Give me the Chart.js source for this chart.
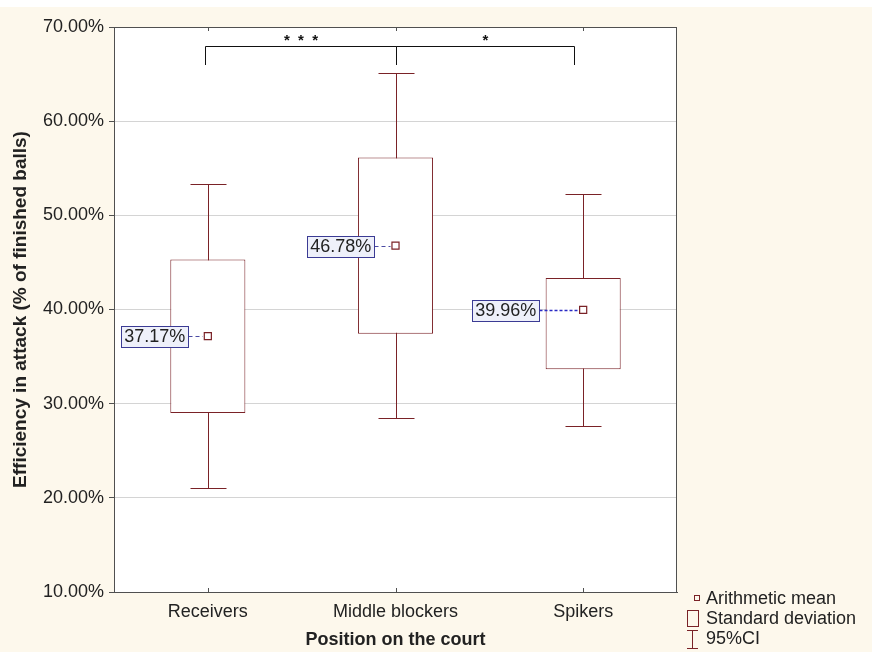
<!DOCTYPE html>
<html><head><meta charset="utf-8">
<script src="https://cdn.jsdelivr.net/npm/chart.js@4/dist/chart.umd.min.js"></script>
<style>html,body{margin:0;padding:0;background:#fff;overflow:hidden}#wrap{width:872px;height:652px;position:relative}canvas{display:block}</style>
</head><body><div id="wrap"><canvas id="c" width="872" height="652" style="width:872px;height:652px"></canvas></div>
<script>
// ---- data ----
const categories = ['Receivers', 'Middle blockers', 'Spikers'];
const means = [37.17, 46.78, 39.96];
const sdLow = [29.02, 37.43, 33.65];
const sdHigh = [45.32, 56.13, 43.35];
const ciLow = [21.06, 28.48, 27.62];
const ciHigh = [53.28, 65.08, 52.30];
const meanLabels = ['37.17%', '46.78%', '39.96%'];
const yTicks = [10, 20, 30, 40, 50, 60, 70];
const compFrom = [0, 1];
const compTo = [1, 2];
const compStars = ['*  *  *', '*'];
const legendItems = ['Arithmetic mean', 'Standard deviation', '95%CI'];

// ---- styles / layout ----
const FONT = '"Liberation Sans", Arial, sans-serif';
const MAROON = '#7a2227';
const AXIS = '#505050';
const labelGap = [20, 22, 44];
const bracketTop = 68, bracketBottom = 66;
const bracketAnchor = [-0.015, 0, -0.05];

const bgPlugin = {
  id: 'bg',
  beforeDraw(chart) {
    const {ctx, chartArea: a, width, height} = chart;
    ctx.save();
    ctx.fillStyle = '#ffffff'; ctx.fillRect(0, 0, width, height);
    ctx.fillStyle = '#fdf8ec'; ctx.fillRect(0, 7, width, height - 7);
    ctx.fillStyle = '#ffffff'; ctx.fillRect(a.left, a.top, a.right - a.left, a.bottom - a.top);
    ctx.restore();
  }
};

const whiskerPlugin = {
  id: 'whiskers',
  beforeDatasetsDraw(chart) {
    const {ctx} = chart;
    const xs = chart.scales.x, ys = chart.scales.y;
    const bars = chart.getDatasetMeta(0).data;
    ctx.save();
    ctx.strokeStyle = MAROON; ctx.lineWidth = 1;
    categories.forEach((c, i) => {
      const px = Math.round(xs.getPixelForValue(i)) + 0.5;
      const hw = Math.round(bars[i].width * 0.24);
      const t = Math.round(ys.getPixelForValue(ciHigh[i])) + 0.5;
      const b = Math.round(ys.getPixelForValue(ciLow[i])) + 0.5;
      ctx.beginPath();
      ctx.moveTo(px, t); ctx.lineTo(px, b);
      ctx.moveTo(px - hw, t); ctx.lineTo(px + hw, t);
      ctx.moveTo(px - hw, b); ctx.lineTo(px + hw, b);
      ctx.stroke();
    });
    ctx.restore();
  }
};

const annotPlugin = {
  id: 'annot',
  afterDatasetsDraw(chart) {
    const {ctx, chartArea: a} = chart;
    const xs = chart.scales.x, ys = chart.scales.y;
    ctx.save();
    // frame
    ctx.strokeStyle = AXIS; ctx.lineWidth = 1;
    ctx.strokeRect(Math.round(a.left) + 0.5, Math.round(a.top) + 0.5, Math.round(a.right - a.left) - 1, Math.round(a.bottom - a.top));
    // x ticks inward top/bottom
    ctx.beginPath();
    categories.forEach((c, i) => {
      const px = Math.round(xs.getPixelForValue(i)) + 0.5;
      ctx.moveTo(px, a.top); ctx.lineTo(px, a.top + 4);
      ctx.moveTo(px, a.bottom); ctx.lineTo(px, a.bottom - 4);
    });
    ctx.stroke();

    // mean labels with dashed leader lines
    ctx.font = '18px ' + FONT;
    ctx.textBaseline = 'middle';
    ctx.textAlign = 'center';
    categories.forEach((c, i) => {
      const px = xs.getPixelForValue(i);
      const py = Math.round(ys.getPixelForValue(means[i])) + 0.5;
      const tw = ctx.measureText(meanLabels[i]).width;
      const right = Math.round(px - labelGap[i]) + 0.5;
      const left = Math.round(right - tw - 6);
      const h = 21;
      ctx.setLineDash(i === 2 ? [3, 2] : [4, 3]);
      ctx.strokeStyle = i === 2 ? '#2a2ac4' : '#4b4ba3';
      ctx.lineWidth = i === 2 ? 1.6 : 1;
      ctx.beginPath(); ctx.moveTo(right, py); ctx.lineTo(px - 5, py); ctx.stroke();
      ctx.setLineDash([]);
      ctx.lineWidth = 1;
      ctx.fillStyle = '#eef0fa';
      ctx.fillRect(left, py - h / 2, right - left, h);
      ctx.strokeStyle = '#3b3b94';
      ctx.strokeRect(left + 0.5, Math.round(py - h / 2) + 0.5, right - left - 0.5, h);
      ctx.fillStyle = '#222';
      ctx.fillText(meanLabels[i], (left + right) / 2, py + 1);
    });

    // significance brackets
    ctx.strokeStyle = '#111'; ctx.lineWidth = 1;
    const yt = Math.round(ys.getPixelForValue(bracketTop)) + 0.5;
    const yb = Math.round(ys.getPixelForValue(bracketBottom));
    ctx.font = 'bold 15px ' + FONT;
    ctx.fillStyle = '#111';
    compFrom.forEach((f, k) => {
      const x1 = Math.round(xs.getPixelForValue(f + bracketAnchor[f])) + 0.5;
      const x2 = Math.round(xs.getPixelForValue(compTo[k] + bracketAnchor[compTo[k]])) + 0.5;
      ctx.beginPath();
      ctx.moveTo(x1, yb); ctx.lineTo(x1, yt); ctx.lineTo(x2, yt); ctx.lineTo(x2, yb);
      ctx.stroke();
      ctx.fillText(compStars[k], (x1 + x2) / 2, yt - 6);
    });

    // legend
    const lx = 706;
    const rows = [598, 618, 638];
    ctx.font = '18px ' + FONT;
    ctx.textAlign = 'left';
    ctx.fillStyle = '#222';
    legendItems.forEach((t, k) => ctx.fillText(t, lx, rows[k] + 1));
    ctx.strokeStyle = MAROON; ctx.lineWidth = 1;
    ctx.strokeRect(694.5, 595.5, 5, 5);
    ctx.strokeRect(687.5, 610.5, 11, 16);
    ctx.beginPath();
    ctx.moveTo(687, 630.5); ctx.lineTo(698, 630.5);
    ctx.moveTo(692.5, 630.5); ctx.lineTo(692.5, 648.5);
    ctx.moveTo(687, 648.5); ctx.lineTo(698, 648.5);
    ctx.stroke();
    ctx.restore();
  }
};

new Chart(document.getElementById('c'), {
  data: {
    labels: categories,
    datasets: [
      {
        type: 'bar',
        data: categories.map((c, i) => [sdLow[i], sdHigh[i]]),
        backgroundColor: '#ffffff',
        borderColor: MAROON,
        borderWidth: 1,
        borderSkipped: false,
        barPercentage: 0.4,
        categoryPercentage: 1,
        order: 2
      },
      {
        type: 'line',
        data: means,
        showLine: false,
        pointStyle: 'rect',
        pointRadius: 5,
        pointBorderWidth: 1.2,
        pointBorderColor: MAROON,
        pointBackgroundColor: '#ffffff',
        order: 1
      }
    ]
  },
  options: {
    responsive: false,
    animation: false,
    devicePixelRatio: 1,
    layout: {padding: {left: 3, top: 27, right: 195, bottom: 0}},
    plugins: {legend: {display: false}, tooltip: {enabled: false}},
    scales: {
      x: {
        type: 'category',
        offset: true,
        grid: {display: false, drawTicks: false},
        border: {display: true, color: AXIS},
        ticks: {font: {family: FONT, size: 18}, color: '#222', padding: 9},
        title: {display: true, text: 'Position on the court', color: '#222',
                font: {family: FONT, size: 18, weight: 'bold'}, padding: {top: 0, bottom: 1}},
        afterFit(s) { s.height = 60; }
      },
      y: {
        type: 'linear',
        min: 10, max: 70,
        afterBuildTicks(s) { s.ticks = yTicks.map(v => ({value: v})); },
        grid: {color: '#d4d4d4', tickColor: AXIS, tickLength: 5, drawTicks: true},
        border: {display: true, color: AXIS},
        ticks: {font: {family: FONT, size: 18}, color: '#222', padding: 5,
                callback: v => Number(v).toFixed(2) + '%'},
        title: {display: true, text: 'Efficiency in attack (% of finished balls)', color: '#222',
                font: {family: FONT, size: 19, weight: 'bold'}, padding: {top: 6, bottom: 0}},
        afterFit(s) { s.width = 111; }
      }
    }
  },
  plugins: [bgPlugin, whiskerPlugin, annotPlugin]
});
</script>
</body></html>
